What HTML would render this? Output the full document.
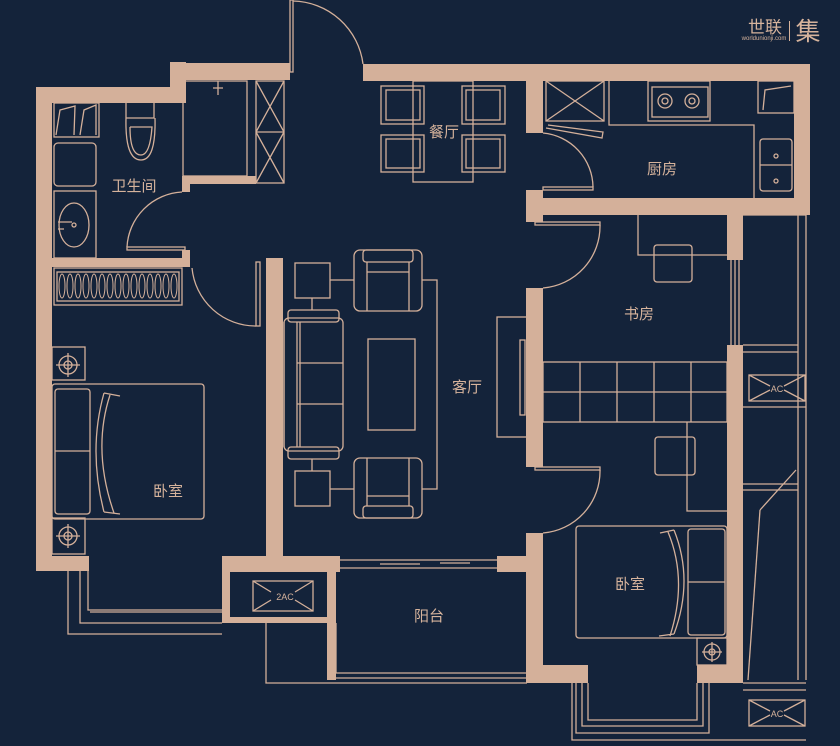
<!DOCTYPE html>
<html><head><meta charset="utf-8"><style>
html,body{margin:0;padding:0;background:#14233a;}
svg{display:block}
text{font-family:"Liberation Sans","Noto Sans CJK SC",sans-serif;fill:#d6b39c}
</style></head><body>
<svg width="840" height="746" viewBox="0 0 840 746" xmlns="http://www.w3.org/2000/svg">
<rect width="840" height="746" fill="#14233a"/>
<g fill="#d4b09a">
<rect x="36" y="87" width="150" height="16"/>
<rect x="170" y="62" width="16" height="41"/>
<rect x="170" y="63" width="120" height="17"/>
<rect x="363" y="64" width="447" height="17"/>
<rect x="794" y="64" width="16" height="151"/>
<rect x="36" y="87" width="16" height="484"/>
<rect x="36" y="556" width="53" height="15"/>
<rect x="182" y="176" width="74" height="8"/>
<rect x="182" y="176" width="8" height="16"/>
<rect x="52" y="258" width="138" height="9"/>
<rect x="182" y="250" width="8" height="17"/>
<rect x="266" y="258" width="17" height="300"/>
<rect x="526" y="81" width="17" height="52"/>
<rect x="526" y="190" width="17" height="32"/>
<rect x="526" y="198" width="284" height="17"/>
<rect x="526" y="288" width="17" height="179"/>
<rect x="526" y="533" width="17" height="150"/>
<rect x="727" y="215" width="16" height="45"/>
<rect x="727" y="345" width="16" height="336"/>
<rect x="526" y="665" width="62" height="18"/>
<rect x="697" y="665" width="46" height="18"/>
<rect x="222" y="556" width="118" height="16"/>
<rect x="497" y="556" width="30" height="16"/>
<rect x="222" y="556" width="8" height="67"/>
<rect x="327" y="556" width="9" height="124"/>
<rect x="222" y="617" width="114" height="6"/>
</g>
<g fill="none" stroke="#d4b09a" stroke-width="1.3">
<rect x="290" y="0" width="3" height="72"/>
<path d="M293 1 A72 72 0 0 1 363 64"/>
<rect x="127" y="247" width="58" height="3"/>
<path d="M127 247 A58 58 0 0 1 182 192"/>
<rect x="256" y="262" width="4" height="64"/>
<path d="M192 268 A64 64 0 0 0 256 326"/>
<rect x="543" y="187" width="50" height="3"/>
<path d="M543 133 A55 55 0 0 1 593 187"/>
<rect x="535" y="222" width="65" height="3"/>
<path d="M600 225 A62 62 0 0 1 543 288"/>
<rect x="535" y="467" width="65" height="3"/>
<path d="M600 470 A62 62 0 0 1 543 533"/>
<rect x="183" y="81" width="64" height="95"/>
<rect x="256" y="81" width="28" height="102"/>
<path d="M256 81 L284 132 M284 81 L256 132 M256 132 H284 M256 132 L284 183 M284 132 L256 183"/>
<path d="M218 81 V95 M213 88 H223"/>
<rect x="54" y="103" width="45" height="34"/>
<path d="M56 135 L60 110 L75 106 L74 135 M80 135 L84 110 L96 105 L96 135"/>
<rect x="54" y="143" width="42" height="43" rx="4"/>
<rect x="54" y="191" width="42" height="67"/>
<ellipse cx="74" cy="225" rx="15" ry="22"/>
<circle cx="74" cy="225" r="2"/>
<path d="M58 222 H72 M58 229 H64"/>
<path d="M126 103 V118 H154 V103 M126 118 Q125 160 141 160 Q156 160 155 118 M130 127 H152 Q150 155 141 155 Q130 155 130 127"/>
<rect x="54" y="268" width="128" height="37"/>
<rect x="57" y="272" width="122" height="29"/>
<g stroke-width="1">
<ellipse cx="62" cy="286" rx="3" ry="12"/><ellipse cx="70" cy="286" rx="3" ry="12"/><ellipse cx="78" cy="286" rx="3" ry="12"/><ellipse cx="86" cy="286" rx="3" ry="12"/><ellipse cx="94" cy="286" rx="3" ry="12"/><ellipse cx="102" cy="286" rx="3" ry="12"/><ellipse cx="110" cy="286" rx="3" ry="12"/><ellipse cx="118" cy="286" rx="3" ry="12"/><ellipse cx="126" cy="286" rx="3" ry="12"/><ellipse cx="134" cy="286" rx="3" ry="12"/><ellipse cx="142" cy="286" rx="3" ry="12"/><ellipse cx="150" cy="286" rx="3" ry="12"/><ellipse cx="158" cy="286" rx="3" ry="12"/><ellipse cx="166" cy="286" rx="3" ry="12"/><ellipse cx="174" cy="286" rx="3" ry="12"/>
</g>
<rect x="52" y="347" width="33" height="33"/>
<circle cx="68" cy="365" r="9"/><circle cx="68" cy="365" r="4"/><path d="M56 365 H80 M68 353 V377"/>
<rect x="52" y="518" width="33" height="36"/>
<circle cx="68" cy="536" r="9"/><circle cx="68" cy="536" r="4"/><path d="M56 536 H80 M68 524 V548"/>
<rect x="52" y="384" width="152" height="135" rx="3"/>
<rect x="55" y="389" width="35" height="125" rx="3"/>
<path d="M55 451 H90 M104 393 Q88 450 104 512 M110 395 Q92 450 114 513 M104 393 L120 396 M104 512 L120 514"/>
<path d="M88 571 V610 H222 M80 571 V623 H222 M68 571 V634 H222 M90 612 H222"/>
<rect x="253" y="581" width="60" height="30"/>
<path d="M253 581 L271 592 M313 581 L295 592 M253 611 L271 600 M313 611 L295 600"/>
<path d="M266 623 V683 H527 M230 618 H327"/>
<path d="M336 623 V673 H527 M330 623 V678 H527"/>
<path d="M340 560 H497 M340 568 H497 M380 564 H420 M440 563 H470"/>
<rect x="413" y="81" width="60" height="101"/>
<rect x="381" y="86" width="43" height="38"/><rect x="386" y="90" width="34" height="30"/>
<rect x="381" y="135" width="43" height="37"/><rect x="386" y="139" width="34" height="29"/>
<rect x="462" y="86" width="43" height="38"/><rect x="466" y="90" width="34" height="30"/>
<rect x="462" y="135" width="43" height="37"/><rect x="466" y="139" width="34" height="29"/>
<rect x="295" y="263" width="35" height="35"/>
<path d="M312 298 V310 M330 280 H354"/>
<rect x="354" y="250" width="68" height="61" rx="6"/>
<rect x="363" y="250" width="50" height="12" rx="3"/>
<path d="M367 262 V311 M409 262 V311 M367 272 H409"/>
<rect x="284" y="318" width="59" height="133" rx="5"/>
<rect x="288" y="310" width="51" height="12" rx="3"/>
<rect x="288" y="447" width="51" height="12" rx="3"/>
<path d="M300 322 V447 M297 322 V447 M297 363 H343 M297 404 H343 M284 322 V447"/>
<rect x="368" y="339" width="47" height="91"/>
<path d="M422 280 H437 V489 H422"/>
<rect x="295" y="471" width="35" height="35"/>
<path d="M312 459 V471 M330 489 H354"/>
<rect x="354" y="458" width="68" height="60" rx="6"/>
<rect x="363" y="506" width="50" height="12" rx="3"/>
<path d="M367 458 V506 M409 458 V506 M367 496 H409"/>
<rect x="497" y="317" width="30" height="120"/>
<rect x="520" y="340" width="5" height="75"/>
<rect x="546" y="81" width="58" height="40"/>
<path d="M546 81 L604 121 M604 81 L546 121 M548 125 L603 132 L602 138 L546 128"/>
<path d="M609 81 V125 H754 V198"/>
<rect x="652" y="87" width="56" height="30"/>
<rect x="648" y="81" width="62" height="40"/>
<circle cx="665" cy="101" r="7"/><circle cx="665" cy="101" r="3"/>
<circle cx="692" cy="101" r="7"/><circle cx="692" cy="101" r="3"/>
<rect x="758" y="81" width="36" height="32"/>
<path d="M763 110 L765 90 L791 86"/>
<rect x="760" y="139" width="32" height="52" rx="3"/>
<path d="M760 165 H792"/>
<circle cx="776" cy="156" r="2"/><circle cx="776" cy="181" r="2"/>
<path d="M751 203 H790 M751 208 H790 M751 213 H790"/>
<path d="M638 215 V255 H727"/>
<rect x="654" y="245" width="38" height="37" rx="3"/>
<rect x="543" y="362" width="184" height="60"/>
<path d="M543 392 H727 M580 362 V422 M617 362 V422 M654 362 V422 M691 362 V422"/>
<path d="M687 422 V511 H727"/>
<rect x="655" y="437" width="40" height="38" rx="3"/>
<rect x="576" y="526" width="151" height="112" rx="3"/>
<rect x="688" y="529" width="37" height="106" rx="3"/>
<path d="M688 582 H725 M674 530 Q694 580 674 634 M668 532 Q688 580 670 636 M674 530 L660 533 M674 634 L659 636"/>
<rect x="697" y="638" width="30" height="27"/>
<circle cx="712" cy="652" r="8"/><circle cx="712" cy="652" r="3"/><path d="M702 652 H722 M712 642 V662"/>
<path d="M588 683 V720 H697 V683 M582 683 V726 H703 V683 M576 683 V733 H709 V683 M572 683 V740 H806"/>
<path d="M731 260 V345 M735 260 V345 M739 260 V345"/>
<path d="M743 215 H806 M798 215 V680 M806 215 V680 M743 345 H798 M743 352 H798"/>
<rect x="749" y="375" width="56" height="26"/>
<path d="M749 375 L770 386 M805 375 L784 386 M749 401 L770 390 M805 401 L784 390"/>
<path d="M743 407 H806 M743 484 H798 M743 490 H798 M760 510 L796 470"/>
<path d="M760 510 L748 680"/>
<rect x="749" y="700" width="56" height="26"/>
<path d="M749 700 L770 711 M805 700 L784 711 M749 726 L770 715 M805 726 L784 715"/>
<path d="M743 683 H806 M743 690 H806"/>
</g>
<g font-size="10" text-anchor="middle">
<text x="285" y="600" font-size="9">2AC</text>
<text x="777" y="392" font-size="9">AC</text>
<text x="777" y="717" font-size="9">AC</text>
</g>
<g font-size="15" text-anchor="middle">
<text x="134" y="191">卫生间</text>
<text x="444" y="137">餐厅</text>
<text x="662" y="174">厨房</text>
<text x="639" y="319">书房</text>
<text x="467" y="392">客厅</text>
<text x="168" y="496">卧室</text>
<text x="630" y="589">卧室</text>
<text x="429" y="621">阳台</text>
</g>
<text x="765" y="33" font-size="17" text-anchor="middle">世联</text>
<text x="764" y="40" font-size="6" text-anchor="middle">worldunionji.com</text>
<rect x="789" y="21" width="1" height="20" fill="#d6b39c"/>
<text x="808" y="40" font-size="25" text-anchor="middle">集</text>
</svg>
</body></html>
